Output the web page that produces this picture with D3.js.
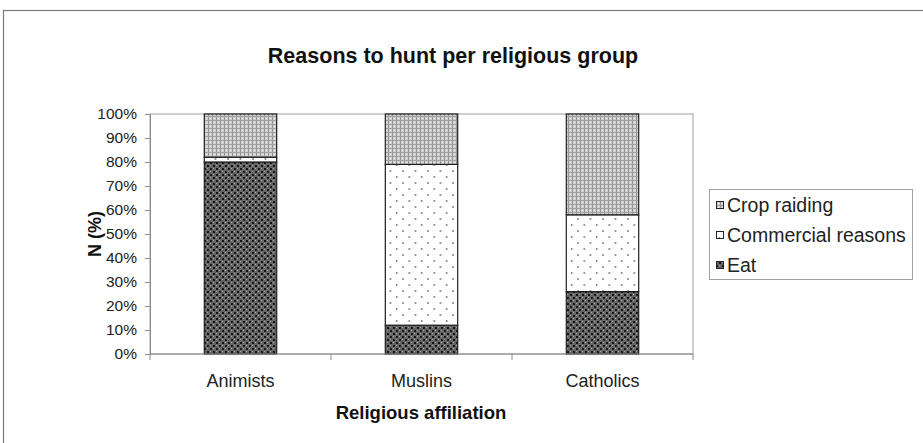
<!DOCTYPE html>
<html>
<head>
<meta charset="utf-8">
<script src="https://cdn.jsdelivr.net/npm/d3@7/dist/d3.min.js"></script>
<style>
  html, body { margin: 0; padding: 0; background: #fff; }
  svg { display: block; font-family: "Liberation Sans", Arial, sans-serif; }
</style>
</head>
<body>
<svg id="chart" width="923" height="443"></svg>
<script>
// Share of hunters (%) by reason, per religious group
const groups = ["Animists", "Muslins", "Catholics"];
const eat = [80, 12, 26];
const commercial = [2, 67, 32];
const cropRaiding = [18, 21, 42];
const seriesNames = ["Eat", "Commercial reasons", "Crop raiding"];
const yTicks = [0, 10, 20, 30, 40, 50, 60, 70, 80, 90, 100];

const svg = d3.select("#chart");
const margin = { left: 150, top: 114, right: 693, bottom: 354 };

// --- fill patterns ---
const defs = svg.append("defs");

// dark diamond/check texture
const pEat = defs.append("pattern").attr("id", "pat-eat")
  .attr("patternUnits", "userSpaceOnUse").attr("width", 6).attr("height", 6);
pEat.append("rect").attr("width", 6).attr("height", 6).attr("fill", "#666666");
pEat.append("rect").attr("x", 0).attr("y", 0).attr("width", 2).attr("height", 2).attr("fill", "#161616");
pEat.append("rect").attr("x", 3).attr("y", 3).attr("width", 2).attr("height", 2).attr("fill", "#161616");
pEat.append("rect").attr("x", 3).attr("y", 0).attr("width", 1).attr("height", 1).attr("fill", "#a8a8a8");
pEat.append("rect").attr("x", 0).attr("y", 3).attr("width", 1).attr("height", 1).attr("fill", "#a8a8a8");

// sparse staggered dots
const pCom = defs.append("pattern").attr("id", "pat-com")
  .attr("patternUnits", "userSpaceOnUse").attr("width", 12.5).attr("height", 12);
pCom.append("rect").attr("width", 12.5).attr("height", 12).attr("fill", "#ffffff");
pCom.append("circle").attr("cx", 3).attr("cy", 3).attr("r", 0.9).attr("fill", "#707070");
pCom.append("circle").attr("cx", 9.25).attr("cy", 9).attr("r", 0.9).attr("fill", "#707070");

// light dotted grid
const pCrop = defs.append("pattern").attr("id", "pat-crop")
  .attr("patternUnits", "userSpaceOnUse").attr("width", 4).attr("height", 4);
pCrop.append("rect").attr("width", 4).attr("height", 4).attr("fill", "#d0d0d0");
pCrop.append("rect").attr("x", 0).attr("y", 0).attr("width", 1).attr("height", 4).attr("fill", "#949494");
pCrop.append("rect").attr("x", 0).attr("y", 0).attr("width", 4).attr("height", 1).attr("fill", "#a2a2a2");
pCrop.append("rect").attr("x", 2).attr("y", 2).attr("width", 1).attr("height", 1).attr("fill", "#f0f0f0");

const fills = ["url(#pat-eat)", "url(#pat-com)", "url(#pat-crop)"];

// --- outer chart frame ---
svg.append("rect").attr("x", 3.5).attr("y", 10.5).attr("width", 930).attr("height", 440)
  .attr("fill", "none").attr("stroke", "#7a7a7a").attr("stroke-width", 1.2);

// --- scales ---
const x = d3.scaleBand().domain(groups).range([margin.left, margin.right])
  .paddingInner(0.6).paddingOuter(0.3);
const y = d3.scaleLinear().domain([0, 100]).range([margin.bottom, margin.top]);

// plot area frame
svg.append("rect").attr("x", margin.left).attr("y", margin.top)
  .attr("width", margin.right - margin.left).attr("height", margin.bottom - margin.top)
  .attr("fill", "none").attr("stroke", "#a0a0a0").attr("stroke-width", 1);

// --- stacked bars ---
const rows = groups.map((g, i) => ({ group: g, Eat: eat[i], "Commercial reasons": commercial[i], "Crop raiding": cropRaiding[i] }));
const stack = d3.stack().keys(seriesNames)(rows);

svg.append("g").selectAll("g").data(stack).join("g")
  .attr("fill", (d, i) => fills[i])
  .selectAll("rect").data(d => d).join("rect")
  .attr("x", d => x(d.data.group))
  .attr("width", x.bandwidth())
  .attr("y", d => y(d[1]))
  .attr("height", d => y(d[0]) - y(d[1]))
  .attr("stroke", "#1e1e1e").attr("stroke-width", 1.2);

// --- axes ---
const yAxis = d3.axisLeft(y).tickValues(yTicks).tickSize(5).tickPadding(8)
  .tickFormat(d => d + "%");
const gy = svg.append("g").attr("transform", `translate(${margin.left},0)`).call(yAxis);
gy.select(".domain").attr("stroke", "#8a8a8a");
gy.selectAll(".tick line").attr("stroke", "#8a8a8a");
gy.selectAll("text").attr("font-size", 15.5).attr("fill", "#222")
  .attr("font-family", "Liberation Sans, Arial, sans-serif");

// category axis: ticks sit on band boundaries
const boundaries = [margin.left, ...groups.map(g => x(g) + x.bandwidth() / 2 + x.step() / 2)];
const gx = svg.append("g").attr("transform", `translate(0,${margin.bottom})`);
gx.append("line").attr("x1", margin.left).attr("x2", margin.right)
  .attr("stroke", "#8a8a8a");
gx.selectAll("line.tk").data(boundaries).join("line").attr("class", "tk")
  .attr("x1", d => d).attr("x2", d => d).attr("y1", 0).attr("y2", 6)
  .attr("stroke", "#8a8a8a");
gx.selectAll("text").data(groups).join("text")
  .attr("x", d => x(d) + x.bandwidth() / 2).attr("y", 33)
  .attr("text-anchor", "middle").attr("font-size", 18).attr("fill", "#222")
  .text(d => d);

// --- titles ---
svg.append("text").attr("x", 453).attr("y", 63).attr("text-anchor", "middle")
  .attr("font-size", 21.5).attr("font-weight", "bold").attr("fill", "#111")
  .text("Reasons to hunt per religious group");
svg.append("text").attr("x", 421).attr("y", 419).attr("text-anchor", "middle")
  .attr("font-size", 18.5).attr("font-weight", "bold").attr("fill", "#111")
  .text("Religious affiliation");
svg.append("text").attr("transform", "translate(101,234) rotate(-90)")
  .attr("text-anchor", "middle").attr("font-size", 18).attr("font-weight", "bold").attr("fill", "#111")
  .text("N (%)");

// --- legend (top entry is the top of the stack) ---
const legend = svg.append("g");
legend.append("rect").attr("x", 709.5).attr("y", 189.5).attr("width", 203).attr("height", 90)
  .attr("fill", "#fff").attr("stroke", "#a0a0a0");
const legendItems = seriesNames.map((n, i) => ({ name: n, fill: fills[i] })).reverse();
const li = legend.selectAll("g").data(legendItems).join("g")
  .attr("transform", (d, i) => `translate(716,${205 + i * 30})`);
li.append("rect").attr("x", 0.5).attr("y", -3.5).attr("width", 7).attr("height", 7)
  .attr("fill", d => d.fill).attr("stroke", "#222").attr("stroke-width", 1);
li.append("text").attr("x", 11).attr("y", 6.5).attr("font-size", 19.5).attr("fill", "#222")
  .text(d => d.name);
</script>
</body>
</html>
